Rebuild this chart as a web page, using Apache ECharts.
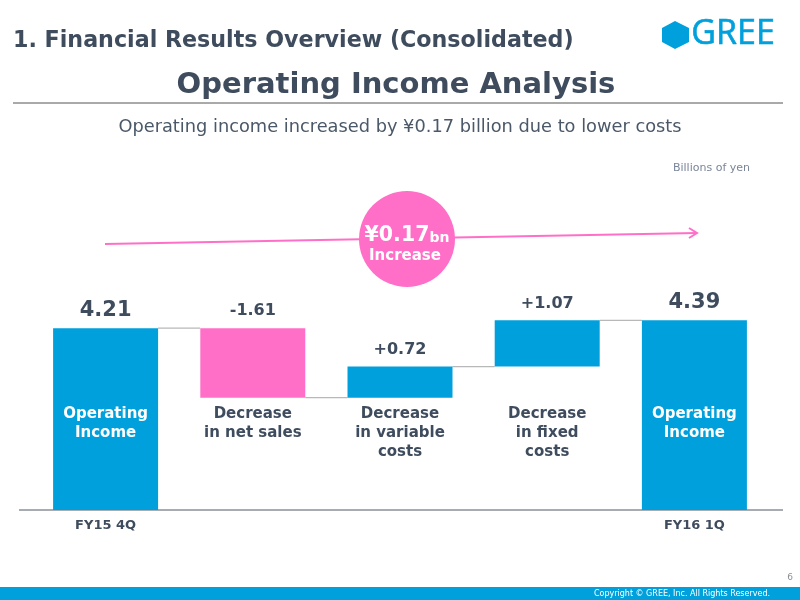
<!DOCTYPE html>
<html>
<head>
<meta charset="utf-8">
<script src="https://cdn.jsdelivr.net/npm/echarts@6/dist/echarts.min.js"></script>
<style>
  html, body { margin: 0; padding: 0; background: #fff; }
  #chart { width: 800px; height: 600px; }
</style>
</head>
<body>
<div id="chart"></div>
<script>
// data
const categories = ["FY15 4Q", "net sales", "variable costs", "fixed costs", "FY16 1Q"]
const axisLabels = ["FY15 4Q", "", "", "", "FY16 1Q"]
const baseValues = [0, 2.60, 2.60, 3.32, 0]
const barValues = [4.21, 1.61, 0.72, 1.07, 4.39]
const valueLabels = ["4.21", "-1.61", "+0.72", "+1.07", "4.39"]
const captions = ["Operating\nIncome", "Decrease\nin net sales", "Decrease\nin variable\ncosts", "Decrease\nin fixed\ncosts", "Operating\nIncome"]
const captionLevel = 2.45

const BLUE = "#00A0DC"
const PINK = "#FF6FC8"
const DARK = "#3E4C5E"
const barColors = [BLUE, PINK, BLUE, BLUE, BLUE]
const captionColors = ["#fff", DARK, DARK, DARK, "#fff"]
const labelSizes = [21, 16, 16, 16, 21]
const FONT = "DejaVu Sans"
const BAR_W = 105

// connector levels: where each bar ends and the next one starts
const connectorLevels = []
for (let i = 0; i < barValues.length - 1; i++) {
  connectorLevels.push([i, i === 1 ? baseValues[1] : baseValues[i] + barValues[i]])
}

const myChart = echarts.init(document.getElementById("chart"))
const option = {
  animation: false,
  textStyle: { fontFamily: FONT },
  grid: { left: 32, right: 32, top: 294, bottom: 90 },
  xAxis: {
    type: "category",
    data: categories,
    axisLine: { show: false },
    axisTick: { show: false },
    axisLabel: {
      margin: 9,
      fontWeight: "bold", fontSize: 13, color: DARK, fontFamily: FONT,
      formatter: (v, i) => axisLabels[i]
    }
  },
  yAxis: { type: "value", min: 0, max: 5, show: false, splitLine: { show: false } },
  series: [
    {
      type: "bar", stack: "w", barWidth: BAR_W, z: 2,
      itemStyle: { color: "transparent" },
      data: baseValues
    },
    {
      type: "bar", stack: "w", barWidth: BAR_W, z: 2,
      data: barValues.map((v, i) => ({
        value: v,
        itemStyle: { color: barColors[i] },
        label: { fontSize: labelSizes[i], distance: labelSizes[i] > 20 ? 7 : 9 }
      })),
      label: {
        show: true, position: "top",
        fontWeight: "bold", color: DARK, fontFamily: FONT,
        formatter: p => valueLabels[p.dataIndex]
      }
    },
    {
      type: "scatter", z: 3, symbolSize: 1, silent: true,
      itemStyle: { color: "rgba(0,0,0,0)", opacity: 1 },
      data: captions.map((c, i) => ({
        value: [i, captionLevel],
        label: { color: captionColors[i] }
      })),
      label: {
        show: true, position: "bottom", distance: 0,
        fontWeight: "bold", fontSize: 15, lineHeight: 19, fontFamily: FONT,
        align: "center",
        formatter: p => captions[p.dataIndex]
      }
    },
    {
      type: "custom", z: 1, silent: true,
      data: connectorLevels,
      renderItem: (params, api) => {
        const p = api.coord([api.value(0), api.value(1)])
        const step = api.size([1, 0])[0]
        return {
          type: "line",
          shape: { x1: p[0] + BAR_W / 2, y1: p[1], x2: p[0] + step - BAR_W / 2, y2: p[1] },
          style: { stroke: "#b8b8b8", lineWidth: 1.2 }
        }
      }
    }
  ],
  graphic: [
    // header
    { type: "text", left: 13, top: 30, style: { text: "1. Financial Results Overview (Consolidated)", font: "bold 22.2px " + FONT, fill: DARK } },
    { type: "polygon", shape: { points: [[675, 21], [689, 28], [689, 42], [675, 49], [662, 42], [662, 28]] }, style: { fill: BLUE } },
    { type: "text", left: 691, top: 17, style: { text: "GREE", font: "34px 'Open Sans'", fill: BLUE, stroke: BLUE, lineWidth: 0.6 } },
    { type: "text", x: 396, y: 85, style: { text: "Operating Income Analysis", font: "bold 29px " + FONT, fill: DARK, align: "center", verticalAlign: "middle" } },
    { type: "line", shape: { x1: 13, y1: 103, x2: 783, y2: 103 }, style: { stroke: "#555", lineWidth: 1 } },
    { type: "text", x: 400, y: 127, style: { text: "Operating income increased by ¥0.17 billion due to lower costs", font: "17.8px " + FONT, fill: "#4A5868", align: "center", verticalAlign: "middle" } },
    { type: "text", right: 50, top: 163, style: { text: "Billions of yen", font: "11px " + FONT, fill: "#7A8599" } },
    // arrow and bubble
    { type: "line", shape: { x1: 105, y1: 244, x2: 697, y2: 233 }, style: { stroke: PINK, lineWidth: 2 } },
    { type: "polyline", shape: { points: [[689, 228], [697, 233], [689, 238]] }, style: { stroke: PINK, lineWidth: 2, fill: null } },
    { type: "circle", shape: { cx: 407, cy: 239, r: 48 }, style: { fill: PINK } },
    {
      type: "text", x: 407, y: 236,
      style: {
        text: "{a|¥0.17}{b|bn}", align: "center", verticalAlign: "middle",
        rich: {
          a: { font: "bold 20.5px " + FONT, fill: "#fff" },
          b: { font: "bold 14px " + FONT, fill: "#fff", padding: [4, 0, 0, 0] }
        }
      }
    },
    { type: "text", x: 405, y: 256, style: { text: "Increase", font: "bold 15px " + FONT, fill: "#fff", align: "center", verticalAlign: "middle" } },
    // baseline
    { type: "line", shape: { x1: 19, y1: 510, x2: 783, y2: 510 }, style: { stroke: "#8A9099", lineWidth: 1.5 } },
    // footer
    { type: "text", x: 790, y: 578, style: { text: "6", font: "9px " + FONT, fill: "#8A9099", align: "center", verticalAlign: "middle" } },
    { type: "rect", shape: { x: 0, y: 587, width: 800, height: 13 }, style: { fill: BLUE } },
    { type: "text", x: 770, y: 594, style: { text: "Copyright © GREE, Inc. All Rights Reserved.", font: "8px " + FONT, fill: "#fff", align: "right", verticalAlign: "middle" } }
  ]
}
myChart.setOption(option)

window.onresize = () => {
  myChart.resize()
}
</script>
</body>
</html>
